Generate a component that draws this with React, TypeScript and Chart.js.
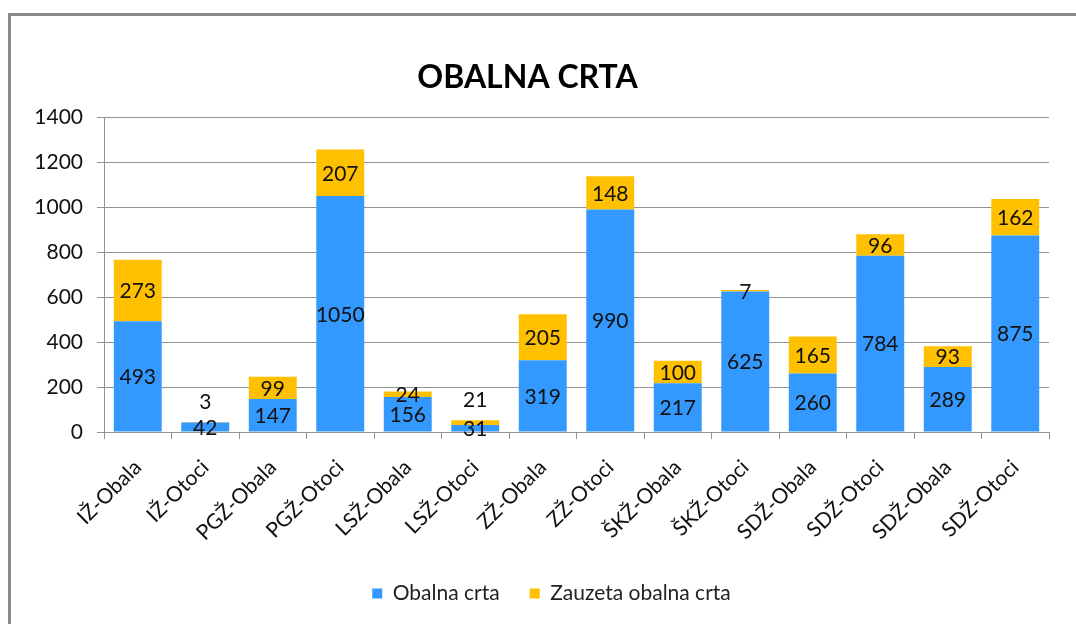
import React, { useEffect, useRef } from "react";
import { Chart, registerables } from "chart.js";

Chart.register(...registerables);

const categories = [
  "IŽ-Obala", "IŽ-Otoci", "PGŽ-Obala", "PGŽ-Otoci", "LSŽ-Obala", "LSŽ-Otoci", "ZŽ-Obala",
  "ZŽ-Otoci", "ŠKŽ-Obala", "ŠKŽ-Otoci", "SDŽ-Obala", "SDŽ-Otoci", "SDŽ-Obala", "SDŽ-Otoci",
];
const obalnaCrta = [493, 42, 147, 1050, 156, 31, 319, 990, 217, 625, 260, 784, 289, 875];
const zauzetaObalnaCrta = [273, 3, 99, 207, 24, 21, 205, 148, 100, 7, 165, 96, 93, 162];
const yTicks = [0, 200, 400, 600, 800, 1000, 1200, 1400];
// indexes whose "Zauzeta" label sits above the bar instead of centred
const liftedLabelIdx = [1, 5];

const FONT = "Lato, 'Open Sans', sans-serif";
const GRID = "#939393";
const FS = 21;

const labelPlugin = {
  id: "segLabels",
  afterDatasetsDraw(chart: any) {
    const ctx = chart.ctx;
    ctx.save();
    ctx.font = `${FS}px ${FONT}`;
    ctx.fillStyle = "#111";
    ctx.textAlign = "center";
    ctx.textBaseline = "middle";
    chart.data.datasets.forEach((ds: any, di: number) => {
      const meta = chart.getDatasetMeta(di);
      meta.data.forEach((bar: any, i: number) => {
        const v = ds.data[i];
        let y = (bar.y + bar.base) / 2;
        if (di === 1 && liftedLabelIdx.includes(i)) {
          y = bar.y - 21;
        }
        ctx.fillText(String(v), bar.x, y + 1);
      });
    });
    ctx.restore();
  },
};

// nudge title and legend horizontally to where the reference places them
const shiftPlugin = {
  id: "shiftBoxes",
  afterLayout(chart: any) {
    const t = chart.titleBlock;
    if (t) { t.left -= 7; t.right -= 7; }
    const l = chart.legend;
    if (l) { l.left += 17; l.right += 17; }
  },
};

export default function App() {
  const ref = useRef<HTMLCanvasElement>(null);
  useEffect(() => {
    const chart = new Chart(ref.current as HTMLCanvasElement, {
      type: "bar",
      data: {
        labels: categories,
        datasets: [
          {
            label: "Obalna crta",
            data: obalnaCrta,
            backgroundColor: "#3399FF",
            barPercentage: 0.71,
            categoryPercentage: 1,
          },
          {
            label: "Zauzeta obalna crta",
            data: zauzetaObalnaCrta,
            backgroundColor: "#FFC000",
            barPercentage: 0.71,
            categoryPercentage: 1,
          },
        ],
      },
      options: {
        animation: false,
        responsive: false,
        layout: { padding: { left: 20, right: 27, top: 0, bottom: 10 } },
        plugins: {
          title: {
            display: true,
            text: "OBALNA CRTA",
            color: "#000",
            font: { family: FONT, size: 32, weight: "bold" },
            padding: { top: 58, bottom: 21 },
          },
          legend: {
            position: "bottom",
            labels: {
              color: "#222",
              font: { family: FONT, size: FS },
              boxWidth: 10,
              boxHeight: 10,
              padding: 30,
            },
          },
          tooltip: { enabled: false },
        },
        scales: {
          x: {
            stacked: true,
            grid: { display: true, drawOnChartArea: false, drawTicks: true, tickLength: 7, color: GRID, offset: true },
            border: { display: true, color: GRID },
            ticks: {
              color: "#111",
              font: { family: FONT, size: FS },
              maxRotation: 45,
              minRotation: 45,
              autoSkip: false,
              padding: 16,
            },
            afterFit: (s: any) => { s.height = 121; },
          },
          y: {
            stacked: true,
            min: 0,
            max: 1400,
            afterBuildTicks: (s: any) => { s.ticks = yTicks.map((v) => ({ value: v })); },
            grid: { color: GRID, tickLength: 7 },
            border: { display: true, color: GRID },
            ticks: {
              color: "#111",
              font: { family: FONT, size: FS },
              padding: 14,
              callback: (v: any) => String(v),
            },
            afterFit: (s: any) => { s.width = 84; },
          },
        },
      },
      plugins: [labelPlugin, shiftPlugin],
    } as any);
    return () => chart.destroy();
  }, []);
  return (
    <div style={{ position: "fixed", left: 0, top: 0, width: 1076, height: 624, background: "#fff" }}>
      <canvas ref={ref} width={1076} height={624} style={{ position: "absolute", left: 0, top: 0 }} />
      <div
        style={{
          position: "absolute",
          left: 8,
          top: 13,
          width: 1100,
          height: 700,
          borderLeft: "3px solid #8a8a8a",
          borderTop: "3px solid #8a8a8a",
          pointerEvents: "none",
        }}
      />
    </div>
  );
}
